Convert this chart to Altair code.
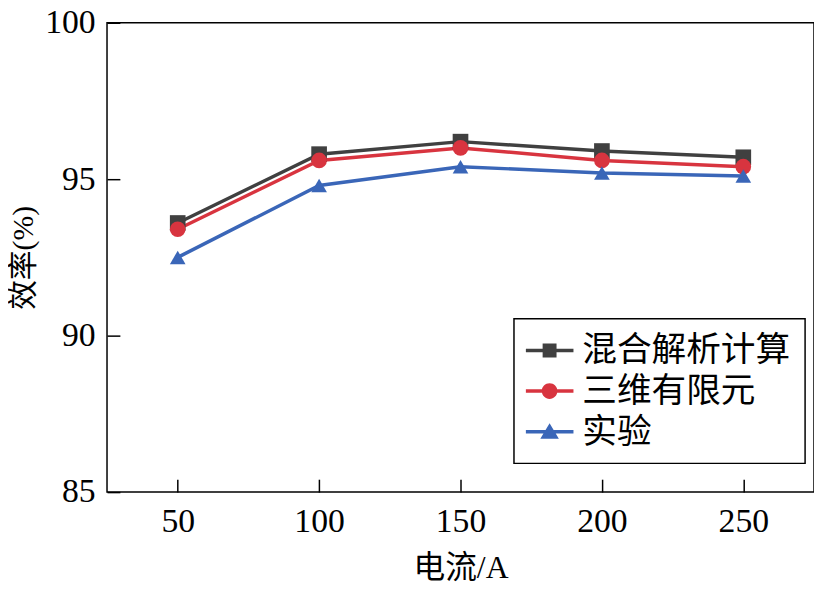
import altair as alt
import pandas as pd

currents = [50, 100, 150, 200, 250]
series_names = ["混合解析计算", "三维有限元", "实验"]
hybrid = [93.6, 95.8, 96.2, 95.9, 95.7]
fem3d = [93.4, 95.6, 96.0, 95.6, 95.4]
experiment = [92.5, 94.8, 95.4, 95.2, 95.1]
y_ticks = [85, 90, 95, 100]

colors = ["#404040", "#d8343f", "#3a66b8"]
shapes = ["square", "circle", "triangle-up"]
legend_paths = [
    "M-1.11,-0.1H1.56V0.1H-1.11Z M-0.17,-0.39H0.61V0.39H-0.17Z",
    "M-1.11,-0.1H1.56V0.1H-1.11Z M0.66,0A0.44,0.44 0 1,1 -0.22,0A0.44,0.44 0 1,1 0.66,0Z",
    "M-1.11,-0.1H1.56V0.1H-1.11Z M0.22,-0.47L0.74,0.4H-0.3Z",
]

rows = []
for name, vals in zip(series_names, [hybrid, fem3d, experiment]):
    for c, v in zip(currents, vals):
        rows.append({"current": c, "eff": v, "series": name})
df = pd.DataFrame(rows)

font = "Liberation Serif, Noto Sans CJK SC"

x_enc = alt.X(
    "current:Q",
    scale=alt.Scale(domain=[25, 275], nice=False, zero=False),
    axis=alt.Axis(
        values=currents, title="电流/A", domain=False, offset=-13, tickSize=13,
        tickColor="black", tickWidth=1.5, labelPadding=13, labelFontSize=34,
        titleFontSize=32, titlePadding=14, titleFontWeight="normal", labelFont=font,
        titleFont=font, labelColor="black", titleColor="black", grid=False,
    ),
)
y_enc = alt.Y(
    "eff:Q",
    scale=alt.Scale(domain=[85, 100], nice=False, zero=False),
    axis=alt.Axis(
        values=y_ticks, title="效率(%)", domain=False, offset=-13, tickSize=13,
        tickColor="black", tickWidth=1.5, labelPadding=12, labelFontSize=34,
        titleFontSize=30, titlePadding=6, titleFontWeight="normal", labelFont=font,
        titleFont=font, labelColor="black", titleColor="black", grid=False,
    ),
)
color_scale = alt.Scale(domain=series_names, range=colors)

base = alt.Chart(df)

lines = base.mark_line(strokeWidth=3.5).encode(
    x=x_enc, y=y_enc,
    color=alt.Color("series:N", scale=color_scale, legend=None),
    detail="series:N",
)

point_layers = []
for name, shp in zip(series_names, shapes):
    point_layers.append(
        base.transform_filter(alt.datum.series == name)
        .mark_point(filled=True, opacity=1, size=250, shape=shp)
        .encode(
            x=x_enc, y=y_enc,
            color=alt.Color("series:N", scale=color_scale, legend=None),
        )
    )

legend_props = dict(
    title=None, orient="none", legendX=411, legendY=299,
    labelFontSize=35, labelFont=font, labelColor="black",
    symbolSize=1296, symbolStrokeWidth=0, symbolOpacity=1, labelOffset=19,
    rowPadding=5, padding=14, strokeColor="black", fillColor="white",
    labelLimit=400,
)

legend_layer = base.mark_point(filled=True, opacity=0).encode(
    x=x_enc, y=y_enc,
    color=alt.Color("series:N", scale=color_scale, legend=alt.Legend(**legend_props)),
    shape=alt.Shape("series:N", scale=alt.Scale(domain=series_names, range=legend_paths),
                    legend=alt.Legend(**legend_props)),
)

chart = (
    alt.layer(alt.layer(lines, *point_layers), legend_layer)
    .resolve_scale(color="independent", shape="independent")
    .properties(
        width=714, height=474,
        autosize=alt.AutoSizeParams(type="none"),
        padding={"left": 100, "top": 12, "right": 0, "bottom": 96},
    )
    .configure_view(stroke="black", strokeWidth=1.5)
    .configure_legend(strokeWidth=1.5, cornerRadius=0)
)

chart.save("out.html", embed_options={"renderer": "svg", "actions": False})
